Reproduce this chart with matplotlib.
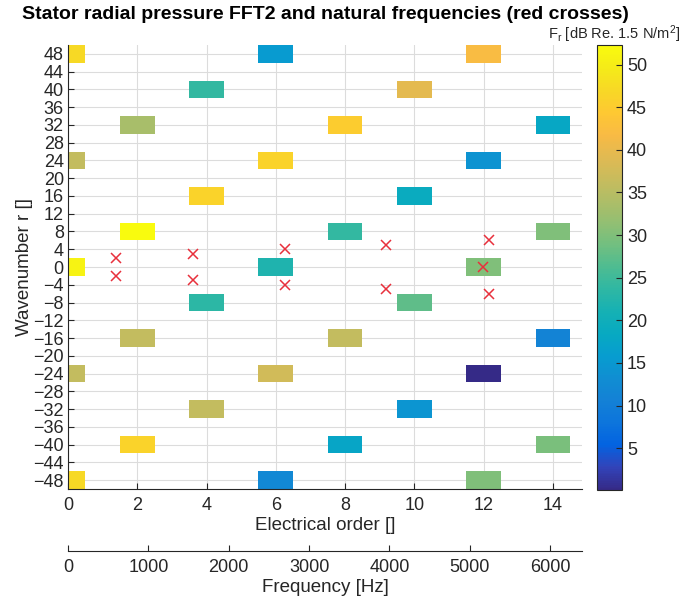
import numpy as np
import matplotlib
matplotlib.use("Agg")
import matplotlib.pyplot as plt
from matplotlib.colors import LinearSegmentedColormap, Normalize
from matplotlib.cm import ScalarMappable

plt.rcParams['font.family'] = ['Liberation Sans', 'DejaVu Sans']

# parula-like colormap (sampled from MATLAB's parula)
parula_rgb = [
    [0.2081, 0.1663, 0.5292], [0.1959, 0.2645, 0.7279], [0.0117, 0.3875, 0.8820],
    [0.0498, 0.4586, 0.8641], [0.0779, 0.5040, 0.8384], [0.0641, 0.5570, 0.8240],
    [0.0265, 0.6137, 0.8135], [0.0267, 0.6642, 0.7607], [0.0843, 0.6928, 0.7062],
    [0.1801, 0.7177, 0.6424], [0.3022, 0.7376, 0.5712], [0.4420, 0.7481, 0.5033],
    [0.5709, 0.7485, 0.4494], [0.6834, 0.7435, 0.4044], [0.7858, 0.7356, 0.3633],
    [0.8824, 0.7274, 0.3217], [0.9739, 0.7314, 0.2666], [0.9955, 0.7861, 0.1967],
    [0.9697, 0.8481, 0.1475], [0.9598, 0.9218, 0.0948], [0.9763, 0.9831, 0.0538],
]
parula = LinearSegmentedColormap.from_list("parula", parula_rgb)

# pressure harmonics: electrical order, wavenumber, level [dB]
orders = [0, 0, 0, 0, 0,
          2, 2, 2, 2,
          4, 4, 4, 4,
          6, 6, 6, 6, 6,
          8, 8, 8, 8,
          10, 10, 10, 10,
          12, 12, 12, 12, 12,
          14, 14, 14, 14]
wavenumbers = [48, 24, 0, -24, -48,
               32, 8, -16, -40,
               40, 16, -8, -32,
               48, 24, 0, -24, -48,
               32, 8, -16, -40,
               40, 16, -8, -32,
               48, 24, 0, -24, -48,
               32, 8, -16, -40]
levels = [47.0, 36.0, 51.0, 36.0, 47.0,
          33.5, 52.3, 36.0, 46.0,
          24.0, 46.0, 23.5, 36.0,
          15.5, 46.0, 22.0, 37.5, 12.0,
          45.0, 24.0, 36.0, 17.5,
          39.5, 19.0, 27.5, 14.5,
          42.0, 14.0, 30.0, 0.1, 30.0,
          18.0, 30.0, 11.0, 29.5]

# natural frequencies (red crosses)
nat_orders = [1.39, 1.39, 3.6, 3.6, 6.26, 6.26, 9.18, 9.18, 12.15, 12.15, 11.98]
nat_modes = [2, -2, 3, -3, 4, -4, 5, -5, 6, -6, 0]

f1 = 431.0  # Hz per electrical order

dark = '#262626'
fig = plt.figure(figsize=(6.95, 6.10), dpi=100)
ax = fig.add_axes([68 / 695, 121 / 610, 514 / 695, 444 / 610])

norm = Normalize(min(levels), max(levels))
ax.bar(orders, 4, width=1, bottom=np.array(wavenumbers) - 2,
       color=parula(norm(np.array(levels))), zorder=2)
ax.plot(nat_orders, nat_modes, 'x', color='#e8303c', ms=7.5, mew=1.1, zorder=3)

ax.set_xlim(0, 14.84)
ax.set_ylim(-50, 50)
ax.set_xticks(range(0, 15, 2))
ax.set_yticks(range(-48, 49, 4))
ax.grid(True, color='#dcdcdc', lw=0.8, zorder=0)
ax.set_axisbelow(True)
for s in ['top', 'right']:
    ax.spines[s].set_visible(False)
for s in ['left', 'bottom']:
    ax.spines[s].set_color(dark)
ax.tick_params(direction='in', length=4, colors=dark, labelsize=13)
ax.tick_params(axis='x', pad=6)
ax.tick_params(axis='y', pad=3)
ax.set_xlabel('Electrical order []', fontsize=13.5, color=dark, labelpad=2)
ax.set_ylabel('Wavenumber r []', fontsize=13.5, color=dark, labelpad=0)
ax.set_title('Stator radial pressure FFT2 and natural frequencies (red crosses)',
             fontsize=14, fontweight='bold', pad=19)

sec = ax.secondary_xaxis('bottom', functions=(lambda x: x * f1, lambda f: f / f1))
sec.spines['bottom'].set_position(('outward', 44.5))
sec.spines['bottom'].set_color(dark)
sec.set_xticks(range(0, 6001, 1000))
sec.tick_params(direction='in', length=4, colors=dark, labelsize=13, pad=6)
sec.set_xlabel('Frequency [Hz]', fontsize=13.5, color=dark, labelpad=2)

cax = fig.add_axes([597 / 695, 120 / 610, 25 / 695, 445 / 610])
cb = fig.colorbar(ScalarMappable(norm=norm, cmap=parula), cax=cax)
cb.set_ticks(range(5, 51, 5))
cb.ax.tick_params(direction='in', length=4, colors=dark, labelsize=13)
cb.outline.set_edgecolor(dark)
fig.text(680 / 695, 1 - 39 / 610,
         r'$\mathregular{F_r}$ [dB Re. 1.5 N/m$\mathregular{^2}$]',
         ha='right', va='baseline', fontsize=10.5, color=dark)

fig.savefig('out.png', dpi=100)
